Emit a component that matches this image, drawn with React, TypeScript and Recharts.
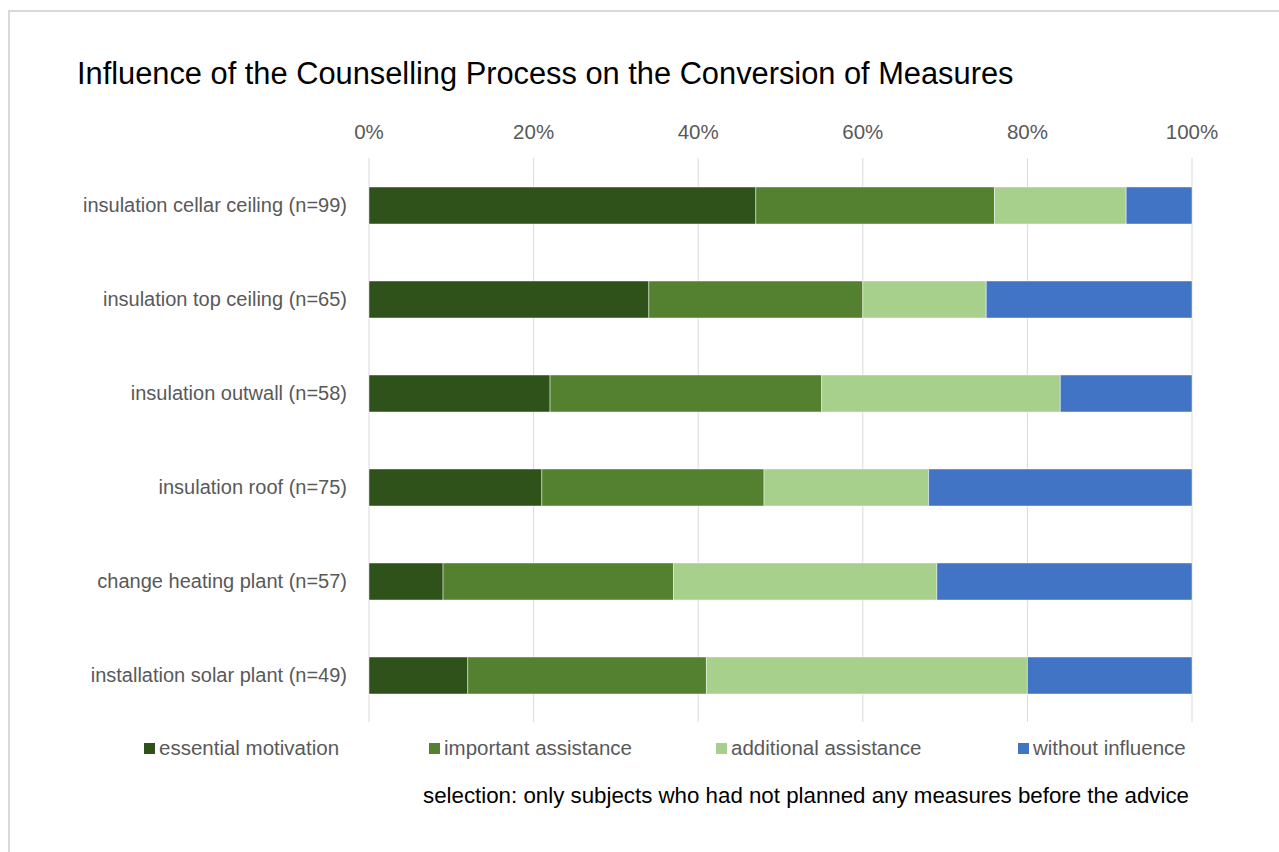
import React from "react";
import { BarChart, Bar, XAxis, YAxis, CartesianGrid, Legend } from "recharts";

const categories = [
  "insulation cellar ceiling (n=99)",
  "insulation top ceiling (n=65)",
  "insulation outwall (n=58)",
  "insulation roof (n=75)",
  "change heating plant (n=57)",
  "installation solar plant (n=49)",
];
const essentialMotivation = [47, 34, 22, 21, 9, 12];
const importantAssistance = [29, 26, 33, 27, 28, 29];
const additionalAssistance = [16, 15, 29, 20, 32, 39];
const withoutInfluence = [8, 25, 16, 32, 31, 20];
const xTicks = [0, 20, 40, 60, 80, 100];

const seriesNames = [
  "essential motivation",
  "important assistance",
  "additional assistance",
  "without influence",
];
const seriesColors = ["#2F521B", "#538130", "#A7D08C", "#4174C5"];
const legendOffsets = [144, 429, 716, 1018];

const data = categories.map((c, i) => ({
  name: c,
  s0: essentialMotivation[i],
  s1: importantAssistance[i],
  s2: additionalAssistance[i],
  s3: withoutInfluence[i],
}));

const FONT = "'Liberation Sans', Arial, sans-serif";

const LegendContent = () => (
  <div style={{ position: "relative", height: 24, width: 1279, fontFamily: FONT }}>
    {seriesNames.map((n, i) => (
      <div
        key={n}
        style={{
          position: "absolute",
          left: legendOffsets[i],
          top: 0,
          height: 24,
          display: "flex",
          alignItems: "center",
          fontSize: 20.5,
          color: "#595959",
          whiteSpace: "nowrap",
        }}
      >
        <span
          style={{
            display: "inline-block",
            width: 11,
            height: 11,
            background: seriesColors[i],
            marginRight: 4,
          }}
        />
        {n}
      </div>
    ))}
  </div>
);

export default function App() {
  return (
    <div style={{ position: "absolute", left: 0, top: 0, width: 1279, height: 852, background: "#fff" }}>
      <div
        style={{
          position: "absolute",
          left: 8,
          top: 10,
          width: 1271,
          height: 842,
          boxSizing: "border-box",
          borderTop: "2px solid #d9d9d9",
          borderLeft: "2px solid #d9d9d9",
        }}
      />
      <div
        style={{
          position: "absolute",
          left: 77,
          top: 56,
          fontFamily: FONT,
          fontSize: 30.8,
          color: "#000",
          whiteSpace: "nowrap",
        }}
      >
        Influence of the Counselling Process on the Conversion of Measures
      </div>
      <div style={{ position: "absolute", left: 0, top: 0 }}>
        <BarChart
          width={1279}
          height={852}
          data={data}
          layout="vertical"
          margin={{ top: 108, right: 87, bottom: 106, left: 0 }}
          barSize={37}
        >
          <CartesianGrid horizontal={false} vertical={true} stroke="#d9d9d9" />
          <XAxis
            type="number"
            orientation="top"
            domain={[0, 100]}
            ticks={xTicks}
            tickFormatter={(v: number) => `${v}%`}
            axisLine={false}
            tickLine={false}
            tickSize={0}
            tickMargin={19}
            height={50}
            tick={{ fill: "#595959", fontSize: 20.5, fontFamily: FONT }}
          />
          <YAxis
            type="category"
            dataKey="name"
            width={369}
            axisLine={false}
            tickLine={false}
            tickSize={0}
            tickMargin={22}
            tick={{ fill: "#595959", fontSize: 20, fontFamily: FONT }}
          />
          <Legend
            verticalAlign="bottom"
            align="left"
            wrapperStyle={{ left: 0, top: 736, width: 1279 }}
            content={<LegendContent />}
          />
          {["s0", "s1", "s2", "s3"].map((k, i) => (
            <Bar
              key={k}
              dataKey={k}
              name={seriesNames[i]}
              stackId="a"
              fill={seriesColors[i]}
              stroke="#ffffff"
              strokeOpacity={0.45}
              strokeWidth={1}
              isAnimationActive={false}
            />
          ))}
        </BarChart>
      </div>
      <div
        style={{
          position: "absolute",
          left: 423,
          top: 783,
          fontFamily: FONT,
          fontSize: 22.3,
          color: "#000",
          whiteSpace: "nowrap",
        }}
      >
        selection: only subjects who had not planned any measures before the advice
      </div>
    </div>
  );
}
